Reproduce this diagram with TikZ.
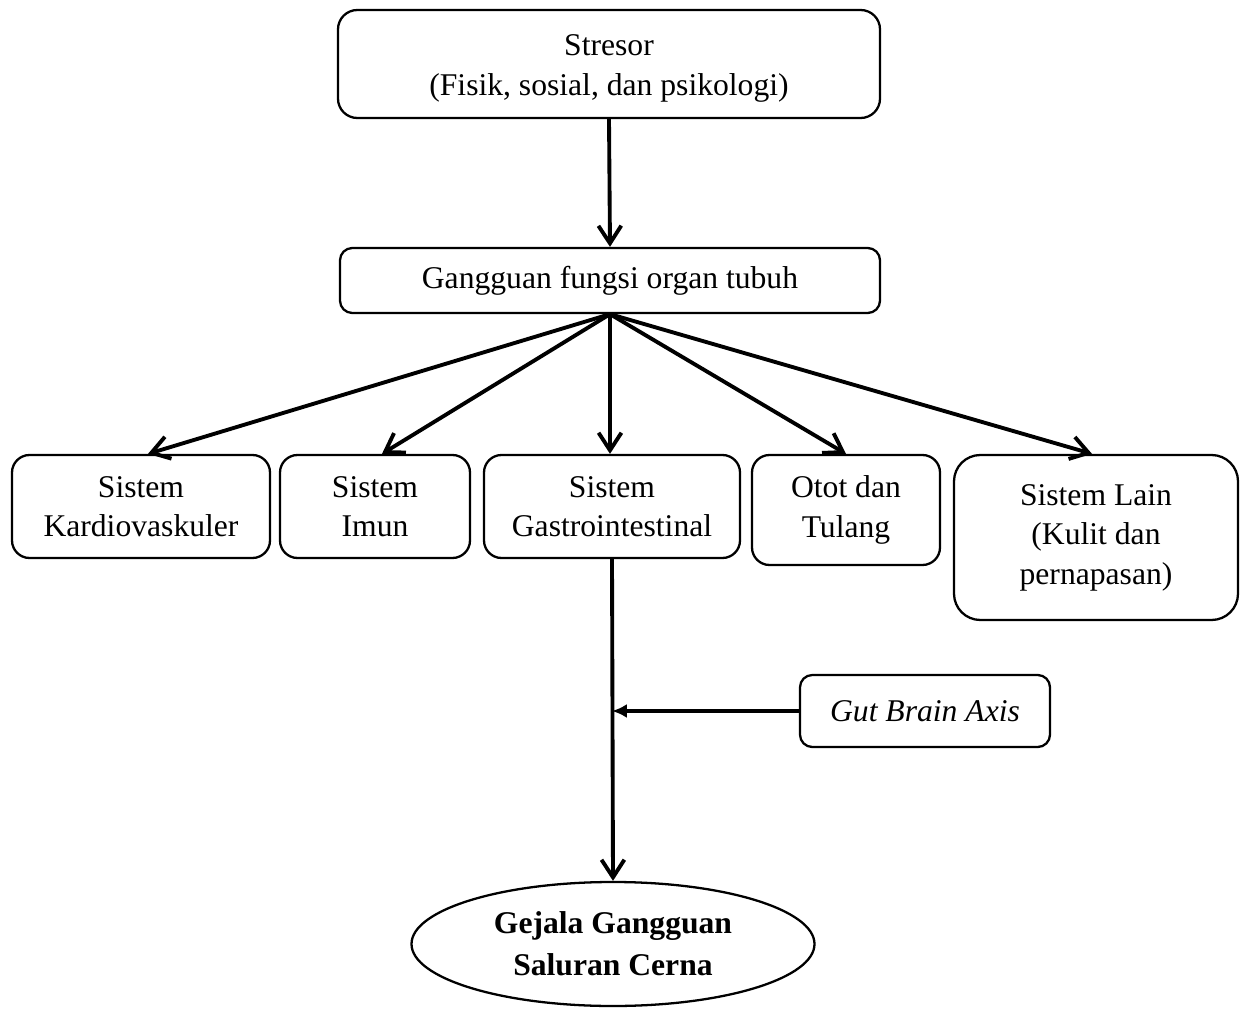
\documentclass[tikz,border=0pt]{standalone}
\usepackage{fontspec}
\setmainfont{Liberation Serif}
\usetikzlibrary{arrows.meta,shapes.geometric}
\begin{document}
\begin{tikzpicture}[x=0.02cm,y=-0.02cm,
  every node/.style={font=\fontsize{18}{22.5}\selectfont, align=center, inner sep=0pt},
  box/.style={draw, line width=1.3pt, rounded corners=10pt},
  conn/.style={line width=2.2pt, -{Straight Barb[length=10pt,width=13pt,line width=2.2pt]}},
  gutarrow/.style={line width=2.2pt, -{Latex[length=8.5pt,width=8pt]}}]
\useasboundingbox (0,0) rectangle (1248,1010);
\node[box, rounded corners=11pt, minimum width=542*0.02cm, minimum height=108*0.02cm] (str) at (609,64) {\rule{0pt}{16.8pt}Stresor\\(Fisik, sosial, dan psikologi)};
\node[box, rounded corners=7pt, minimum width=540*0.02cm, minimum height=65*0.02cm] (gan) at (610,280.5) {Gangguan fungsi organ tubuh};
\node[box, minimum width=258*0.02cm, minimum height=103*0.02cm] (kar) at (141,506.5) {Sistem\\Kardiovaskuler};
\node[box, minimum width=190*0.02cm, minimum height=103*0.02cm] (imu) at (375,506.5) {Sistem\\Imun};
\node[box, minimum width=256*0.02cm, minimum height=103*0.02cm] (gas) at (612,506.5) {Sistem\\Gastrointestinal};
\node[box, minimum width=188*0.02cm, minimum height=110*0.02cm] (oto) at (846,510) {Otot dan\\Tulang};
\node[box, rounded corners=15pt, minimum width=284*0.02cm, minimum height=165*0.02cm] (lai) at (1096,537.5) {Sistem Lain\\(Kulit dan\\pernapasan)};
\node[box, rounded corners=7pt, minimum width=250*0.02cm, minimum height=72*0.02cm] (gut) at (925,711) {\textit{Gut Brain Axis}};
\node[ellipse, draw, line width=1.3pt, minimum width=403*0.02cm, minimum height=124*0.02cm, font=\fontsize{18}{24}\selectfont\bfseries] (gej) at (613,944) {Gejala Gangguan\\Saluran Cerna};
\coordinate (j) at (gas.south |- gut.west);
\draw[conn] (str.south) -- (gan.north);
\draw[conn] (gan.south) -- ([xshift=0.14cm]kar.north);
\draw[conn] (gan.south) -- ([xshift=0.14cm]imu.north);
\draw[conn] (gan.south) -- (gan.south |- gas.north);
\draw[conn] (gan.south) -- (oto.north);
\draw[conn] (gan.south) -- ([xshift=-0.08cm]lai.north);
\draw[conn] (gas.south) -- (gej.north);
\draw[gutarrow] (gut.west) -- (j);
\end{tikzpicture}
\end{document}
